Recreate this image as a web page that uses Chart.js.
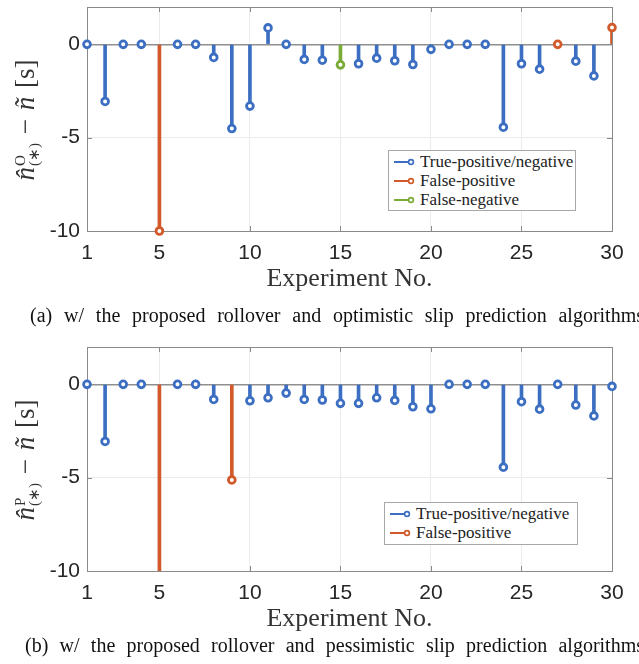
<!DOCTYPE html>
<html>
<head>
<meta charset="utf-8">
<script src="https://cdn.jsdelivr.net/npm/chart.js@4.4.1/dist/chart.umd.min.js"></script>
<style>
  html, body { margin:0; padding:0; background:#fff; }
  body { width:639px; height:664px; overflow:hidden; position:relative; }
  canvas { position:absolute; left:0; }
  .caption { position:absolute; font-family:"Liberation Serif", serif; font-size:20px; line-height:22px;
             color:#111; white-space:nowrap; text-align:justify; text-align-last:justify; }
  .ylab { position:absolute; font-family:"Liberation Serif", serif; font-size:27px; color:#333;
          white-space:nowrap; transform:translate(-50%,-50%) rotate(-90deg); line-height:1; word-spacing:2px; }
  .ylab .ss { display:inline-flex; flex-direction:column; vertical-align:middle; font-size:15px; line-height:14px;
              margin-left:1px; position:relative; top:-1px; }
  .legend { position:absolute; background:#fff; border:1px solid #a8a8a8; box-sizing:border-box;
            font-family:"Liberation Serif", serif; font-size:17px; color:#222; }
  .legend .row { position:absolute; left:0; height:19px; line-height:19px; white-space:nowrap; }
  .legend svg { position:absolute; left:3px; top:4px; }
  .legend span { position:absolute; }
</style>
</head>
<body>
<canvas id="c1" width="639" height="300" style="top:0px"></canvas>
<canvas id="c2" width="639" height="300" style="top:340px"></canvas>

<div class="ylab" style="left:27px; top:120px;"><i>n&#770;</i><span class="ss"><span>O</span><span>(&#8727;)</span></span> &#8722; <i>&#241;</i> [s]</div>
<div class="ylab" style="left:27px; top:460px;"><i>n&#770;</i><span class="ss"><span>P</span><span>(&#8727;)</span></span> &#8722; <i>&#241;</i> [s]</div>

<div class="caption" style="left:30px; top:304px; width:614px;">(a) w/ the proposed rollover and optimistic slip prediction algorithms</div>
<div class="caption" style="left:25px; top:634px; width:619px;">(b) w/ the proposed rollover and pessimistic slip prediction algorithms</div>

<div id="leg1" class="legend" style="left:388px; top:150px; width:188px; height:61px;"></div>
<div id="leg2" class="legend" style="left:384px; top:502px; width:194px; height:43px;"></div>

<script>
// ---------------- DATA ----------------
const experiments = [1,2,3,4,5,6,7,8,9,10,11,12,13,14,15,16,17,18,19,20,21,22,23,24,25,26,27,28,29,30];
const xTicks = [1,5,10,15,20,25,30];
const yTicks = [-10,-5,0];

// (a) optimistic slip prediction: n^O - n~ [s]
const valuesA = [0,-3.06,0,0,-10,0,0,-0.70,-4.51,-3.31,0.88,0,-0.81,-0.85,-1.10,-1.04,-0.74,-0.88,-1.08,-0.27,0,0,0,-4.44,-1.04,-1.33,0,-0.90,-1.69,0.90];
const classA  = ['TP','TP','TP','TP','FP','TP','TP','TP','TP','TP','TP','TP','TP','TP','FN','TP','TP','TP','TP','TP','TP','TP','TP','TP','TP','TP','FP','TP','TP','FP'];

// (b) pessimistic slip prediction: n^P - n~ [s]
const valuesB = [0,-3.06,0,0,-12,0,0,-0.81,-5.12,-0.88,-0.72,-0.47,-0.81,-0.84,-1.02,-1.02,-0.72,-0.86,-1.20,-1.31,0,0,0,-4.44,-0.93,-1.33,0,-1.11,-1.69,-0.11];
const classB  = ['TP','TP','TP','TP','FP','TP','TP','TP','FP','TP','TP','TP','TP','TP','TP','TP','TP','TP','TP','TP','TP','TP','TP','TP','TP','TP','TP','TP','TP','TP'];

const seriesKeys   = ['TP','FP','FN'];
const seriesLabels = ['True-positive/negative','False-positive','False-negative'];

// ---------------- STYLE ----------------
const COLORS = { TP:'#3c6fc2', FP:'#d2592a', FN:'#7aab37' };
const tickFont = { family:'"Liberation Sans", Arial, sans-serif', size:21, lineHeight:1.2 };

const boxPlugin = {
  id:'box',
  beforeDatasetsDraw(chart) {
    const {ctx, chartArea:a, scales} = chart;
    ctx.save();
    ctx.strokeStyle = '#8a8a8a';
    ctx.lineWidth = 1;
    ctx.beginPath();
    scales.x.ticks.forEach(t => {
      const px = Math.round(scales.x.getPixelForValue(t.value)) + 0.5;
      ctx.moveTo(px, a.bottom); ctx.lineTo(px, a.bottom - 5);
      ctx.moveTo(px, a.top); ctx.lineTo(px, a.top + 5);
    });
    scales.y.ticks.forEach(t => {
      const py = Math.round(scales.y.getPixelForValue(t.value)) + 0.5;
      ctx.moveTo(a.left, py); ctx.lineTo(a.left + 5, py);
      ctx.moveTo(a.right, py); ctx.lineTo(a.right - 5, py);
    });
    ctx.stroke();
    ctx.strokeRect(Math.round(a.left)+0.5, Math.round(a.top)+0.5, Math.round(a.right-a.left), Math.round(a.bottom-a.top));
    ctx.restore();
  }
};

function buildDatasets(values, classes) {
  const ds = [];
  let order = 20;
  seriesKeys.forEach((key, i) => {
    const pts = experiments
      .map((x, k) => ({x, y: values[k], c: classes[k]}))
      .filter(p => p.c === key)
      .map(p => ({x: p.x, y: p.y}));
    if (!pts.length) return;
    ds.push({ type:'bar', label: seriesLabels[i], data: pts, backgroundColor: COLORS[key],
              barThickness: 3, grouped: false, borderWidth: 0, order: order-- });
    ds.push({ type:'line', label: seriesLabels[i] + ' marker', data: pts, showLine:false,
              pointRadius: 3.4, pointBorderWidth: 2.8, pointBackgroundColor:'#fff',
              pointBorderColor: COLORS[key], clip: 8, order: order-- });
  });
  return ds;
}

function makeChart(id, values, classes) {
  return new Chart(document.getElementById(id), {
    type: 'line',
    data: { datasets: buildDatasets(values, classes) },
    options: {
      responsive:false, animation:false, devicePixelRatio:1,
      events: [],
      layout: { padding: { top:7, right:27, bottom:0, left:0 } },
      plugins: { legend:{display:false}, tooltip:{enabled:false} },
      scales: {
        x: {
          type:'linear', min:1, max:30, offset:false,
          afterBuildTicks: s => { s.ticks = xTicks.map(v => ({value:v})); },
          afterFit: s => { s.height = 69; s.paddingLeft = 0; s.paddingRight = 0; },
          ticks: { font: tickFont, color:'#262626', padding:10, maxRotation:0, autoSkip:false,
                   callback: v => String(v) },
          grid: { color:'#ebebeb', drawTicks:false, offset:false },
          border: { display:false },
          title: { display:true, text:'Experiment No.', color:'#333',
                   font:{ family:'"Liberation Serif", serif', size:26, lineHeight:1.2 },
                   padding:{ top:0, bottom:5 } }
        },
        y: {
          type:'linear', min:-10, max:2,
          afterBuildTicks: s => { s.ticks = yTicks.map(v => ({value:v})); },
          afterFit: s => { s.width = 87; s.paddingTop = 0; s.paddingBottom = 0; },
          ticks: { font: tickFont, color:'#262626', padding:7, callback: v => String(v) },
          grid: { drawTicks:false,
                  color: c => (c.tick && c.tick.value === 0) ? '#8f8f8f' : '#ebebeb',
                  lineWidth: c => (c.tick && c.tick.value === 0) ? 1.5 : 1 },
          border: { display:false }
        }
      }
    },
    plugins: [boxPlugin]
  });
}

function makeLegend(id, classes) {
  const el = document.getElementById(id);
  let row = 0;
  seriesKeys.forEach((key, i) => {
    if (!classes.includes(key)) return;
    const r = document.createElement('div');
    r.className = 'row';
    r.style.top = (1 + row * 19) + 'px';
    r.style.width = '100%';
    r.innerHTML = '<svg width="26" height="12"><line x1="2" y1="6" x2="19" y2="6" stroke="' + COLORS[key] +
      '" stroke-width="2"/><circle cx="19" cy="6" r="2.4" fill="#fff" stroke="' + COLORS[key] +
      '" stroke-width="1.6"/></svg><span style="left:31px;">' + seriesLabels[i] + '</span>';
    el.appendChild(r);
    row++;
  });
}

makeChart('c1', valuesA, classA);
makeChart('c2', valuesB, classB);
makeLegend('leg1', classA);
makeLegend('leg2', classB);
</script>
</body>
</html>
